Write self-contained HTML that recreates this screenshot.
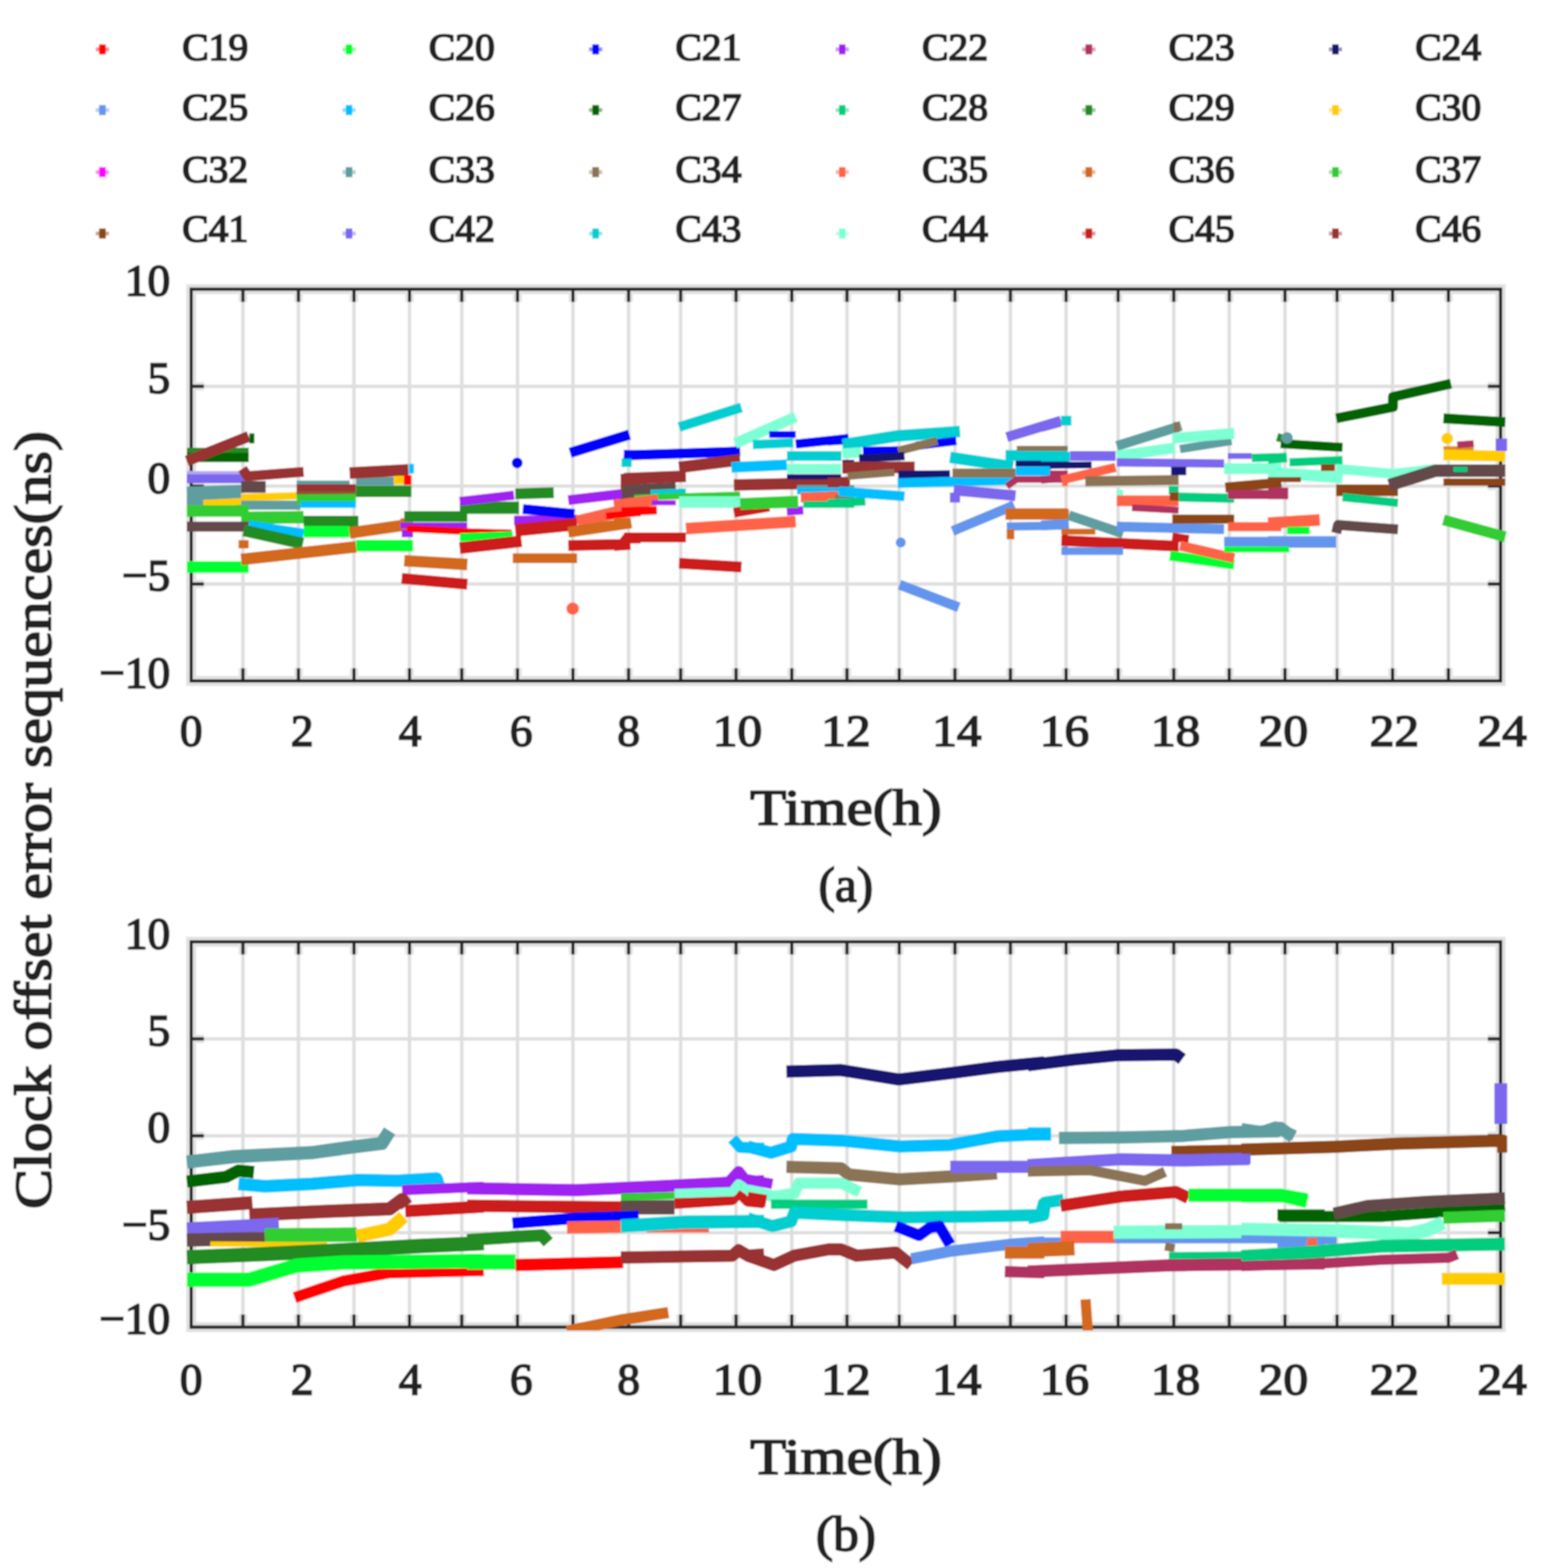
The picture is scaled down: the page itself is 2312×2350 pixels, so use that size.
<!DOCTYPE html>
<html><head><meta charset="utf-8"><title>Clock offset error sequences</title>
<style>
html,body{margin:0;padding:0;background:#fff;}
svg{display:block;}
text{font-family:'Liberation Serif', serif;fill:#222;stroke:#222;stroke-width:2.6px;}
.g{stroke:#dedede;stroke-width:5;}
.ax{fill:none;stroke:#262626;stroke-width:5;}
.halo{fill:none;stroke:#e2e2e2;stroke-width:15;}
.tkh{stroke:#e6e6e6;stroke-width:13;fill:none;}
.tk{stroke:#262626;stroke-width:5;fill:none;}
.xl{font-size:68px;text-anchor:middle;}
.yl{font-size:68px;text-anchor:end;}
.tt{font-size:76px;text-anchor:middle;}
.sub{font-size:74px;text-anchor:middle;}
.yt{font-size:79px;text-anchor:middle;}
.lg{font-size:57px;}
</style></head>
<body>
<svg width="2312" height="2350" viewBox="0 0 2312 2350">
<defs>
<clipPath id="clipa"><rect x="276.5" y="428.4" width="1981.9" height="597.1"/></clipPath>
<clipPath id="clipb"><rect x="276.5" y="1406.5" width="1981.9" height="587.5"/></clipPath>
<filter id="soft" x="0" y="0" width="100%" height="100%"><feGaussianBlur stdDeviation="1.3"/></filter>
</defs>
<g filter="url(#soft)">
<rect width="2312" height="2350" fill="#fff"/>
<rect x="148.5" y="66.5" width="10" height="15" fill="#ff0000"/>
<rect x="143.5" y="71" width="20" height="6" fill="#ff0000" fill-opacity="0.45"/>
<text x="273.0" y="90" class="lg" textLength="99" lengthAdjust="spacingAndGlyphs">C19</text>
<rect x="518.0" y="66.5" width="10" height="15" fill="#00ff33"/>
<rect x="513.0" y="71" width="20" height="6" fill="#00ff33" fill-opacity="0.45"/>
<text x="642.5" y="90" class="lg" textLength="99" lengthAdjust="spacingAndGlyphs">C20</text>
<rect x="887.5" y="66.5" width="10" height="15" fill="#0000ff"/>
<rect x="882.5" y="71" width="20" height="6" fill="#0000ff" fill-opacity="0.45"/>
<text x="1012.0" y="90" class="lg" textLength="99" lengthAdjust="spacingAndGlyphs">C21</text>
<rect x="1257.0" y="66.5" width="10" height="15" fill="#a020f0"/>
<rect x="1252.0" y="71" width="20" height="6" fill="#a020f0" fill-opacity="0.45"/>
<text x="1381.5" y="90" class="lg" textLength="99" lengthAdjust="spacingAndGlyphs">C22</text>
<rect x="1626.5" y="66.5" width="10" height="15" fill="#b03060"/>
<rect x="1621.5" y="71" width="20" height="6" fill="#b03060" fill-opacity="0.45"/>
<text x="1751.0" y="90" class="lg" textLength="99" lengthAdjust="spacingAndGlyphs">C23</text>
<rect x="1996.0" y="66.5" width="10" height="15" fill="#191970"/>
<rect x="1991.0" y="71" width="20" height="6" fill="#191970" fill-opacity="0.45"/>
<text x="2120.5" y="90" class="lg" textLength="99" lengthAdjust="spacingAndGlyphs">C24</text>
<rect x="148.5" y="157.5" width="10" height="15" fill="#6495ed"/>
<rect x="143.5" y="162" width="20" height="6" fill="#6495ed" fill-opacity="0.45"/>
<text x="273.0" y="179.5" class="lg" textLength="99" lengthAdjust="spacingAndGlyphs">C25</text>
<rect x="518.0" y="157.5" width="10" height="15" fill="#00bfff"/>
<rect x="513.0" y="162" width="20" height="6" fill="#00bfff" fill-opacity="0.45"/>
<text x="642.5" y="179.5" class="lg" textLength="99" lengthAdjust="spacingAndGlyphs">C26</text>
<rect x="887.5" y="157.5" width="10" height="15" fill="#006400"/>
<rect x="882.5" y="162" width="20" height="6" fill="#006400" fill-opacity="0.45"/>
<text x="1012.0" y="179.5" class="lg" textLength="99" lengthAdjust="spacingAndGlyphs">C27</text>
<rect x="1257.0" y="157.5" width="10" height="15" fill="#00cd80"/>
<rect x="1252.0" y="162" width="20" height="6" fill="#00cd80" fill-opacity="0.45"/>
<text x="1381.5" y="179.5" class="lg" textLength="99" lengthAdjust="spacingAndGlyphs">C28</text>
<rect x="1626.5" y="157.5" width="10" height="15" fill="#228b22"/>
<rect x="1621.5" y="162" width="20" height="6" fill="#228b22" fill-opacity="0.45"/>
<text x="1751.0" y="179.5" class="lg" textLength="99" lengthAdjust="spacingAndGlyphs">C29</text>
<rect x="1996.0" y="157.5" width="10" height="15" fill="#ffcc00"/>
<rect x="1991.0" y="162" width="20" height="6" fill="#ffcc00" fill-opacity="0.45"/>
<text x="2120.5" y="179.5" class="lg" textLength="99" lengthAdjust="spacingAndGlyphs">C30</text>
<rect x="148.5" y="250.5" width="10" height="15" fill="#ff00ff"/>
<rect x="143.5" y="255" width="20" height="6" fill="#ff00ff" fill-opacity="0.45"/>
<text x="273.0" y="273" class="lg" textLength="99" lengthAdjust="spacingAndGlyphs">C32</text>
<rect x="518.0" y="250.5" width="10" height="15" fill="#5f9ea0"/>
<rect x="513.0" y="255" width="20" height="6" fill="#5f9ea0" fill-opacity="0.45"/>
<text x="642.5" y="273" class="lg" textLength="99" lengthAdjust="spacingAndGlyphs">C33</text>
<rect x="887.5" y="250.5" width="10" height="15" fill="#8b7355"/>
<rect x="882.5" y="255" width="20" height="6" fill="#8b7355" fill-opacity="0.45"/>
<text x="1012.0" y="273" class="lg" textLength="99" lengthAdjust="spacingAndGlyphs">C34</text>
<rect x="1257.0" y="250.5" width="10" height="15" fill="#ff6347"/>
<rect x="1252.0" y="255" width="20" height="6" fill="#ff6347" fill-opacity="0.45"/>
<text x="1381.5" y="273" class="lg" textLength="99" lengthAdjust="spacingAndGlyphs">C35</text>
<rect x="1626.5" y="250.5" width="10" height="15" fill="#d2691e"/>
<rect x="1621.5" y="255" width="20" height="6" fill="#d2691e" fill-opacity="0.45"/>
<text x="1751.0" y="273" class="lg" textLength="99" lengthAdjust="spacingAndGlyphs">C36</text>
<rect x="1996.0" y="250.5" width="10" height="15" fill="#32cd32"/>
<rect x="1991.0" y="255" width="20" height="6" fill="#32cd32" fill-opacity="0.45"/>
<text x="2120.5" y="273" class="lg" textLength="99" lengthAdjust="spacingAndGlyphs">C37</text>
<rect x="148.5" y="342.5" width="10" height="15" fill="#8b4513"/>
<rect x="143.5" y="347" width="20" height="6" fill="#8b4513" fill-opacity="0.45"/>
<text x="273.0" y="362" class="lg" textLength="99" lengthAdjust="spacingAndGlyphs">C41</text>
<rect x="518.0" y="342.5" width="10" height="15" fill="#7b68ee"/>
<rect x="513.0" y="347" width="20" height="6" fill="#7b68ee" fill-opacity="0.45"/>
<text x="642.5" y="362" class="lg" textLength="99" lengthAdjust="spacingAndGlyphs">C42</text>
<rect x="887.5" y="342.5" width="10" height="15" fill="#00ced1"/>
<rect x="882.5" y="347" width="20" height="6" fill="#00ced1" fill-opacity="0.45"/>
<text x="1012.0" y="362" class="lg" textLength="99" lengthAdjust="spacingAndGlyphs">C43</text>
<rect x="1257.0" y="342.5" width="10" height="15" fill="#7fffd4"/>
<rect x="1252.0" y="347" width="20" height="6" fill="#7fffd4" fill-opacity="0.45"/>
<text x="1381.5" y="362" class="lg" textLength="99" lengthAdjust="spacingAndGlyphs">C44</text>
<rect x="1626.5" y="342.5" width="10" height="15" fill="#cc1a1a"/>
<rect x="1621.5" y="347" width="20" height="6" fill="#cc1a1a" fill-opacity="0.45"/>
<text x="1751.0" y="362" class="lg" textLength="99" lengthAdjust="spacingAndGlyphs">C45</text>
<rect x="1996.0" y="342.5" width="10" height="15" fill="#993333"/>
<rect x="1991.0" y="347" width="20" height="6" fill="#993333" fill-opacity="0.45"/>
<text x="2120.5" y="362" class="lg" textLength="99" lengthAdjust="spacingAndGlyphs">C46</text>
<line x1="364" y1="433.4" x2="364" y2="1020.5" class="g"/>
<line x1="447.2" y1="433.4" x2="447.2" y2="1020.5" class="g"/>
<line x1="530.4" y1="433.4" x2="530.4" y2="1020.5" class="g"/>
<line x1="613.6" y1="433.4" x2="613.6" y2="1020.5" class="g"/>
<line x1="691.9" y1="433.4" x2="691.9" y2="1020.5" class="g"/>
<line x1="775.4" y1="433.4" x2="775.4" y2="1020.5" class="g"/>
<line x1="858.5" y1="433.4" x2="858.5" y2="1020.5" class="g"/>
<line x1="941.9" y1="433.4" x2="941.9" y2="1020.5" class="g"/>
<line x1="1019.9" y1="433.4" x2="1019.9" y2="1020.5" class="g"/>
<line x1="1102.9" y1="433.4" x2="1102.9" y2="1020.5" class="g"/>
<line x1="1186.4" y1="433.4" x2="1186.4" y2="1020.5" class="g"/>
<line x1="1269.1" y1="433.4" x2="1269.1" y2="1020.5" class="g"/>
<line x1="1347.4" y1="433.4" x2="1347.4" y2="1020.5" class="g"/>
<line x1="1430.9" y1="433.4" x2="1430.9" y2="1020.5" class="g"/>
<line x1="1514" y1="433.4" x2="1514" y2="1020.5" class="g"/>
<line x1="1597.4" y1="433.4" x2="1597.4" y2="1020.5" class="g"/>
<line x1="1675.4" y1="433.4" x2="1675.4" y2="1020.5" class="g"/>
<line x1="1758.8" y1="433.4" x2="1758.8" y2="1020.5" class="g"/>
<line x1="1841.9" y1="433.4" x2="1841.9" y2="1020.5" class="g"/>
<line x1="1925.4" y1="433.4" x2="1925.4" y2="1020.5" class="g"/>
<line x1="2003.4" y1="433.4" x2="2003.4" y2="1020.5" class="g"/>
<line x1="2086.6" y1="433.4" x2="2086.6" y2="1020.5" class="g"/>
<line x1="2170.3" y1="433.4" x2="2170.3" y2="1020.5" class="g"/>
<line x1="286.5" y1="579.0" x2="2248.4" y2="579.0" class="g"/>
<line x1="286.5" y1="728.5" x2="2248.4" y2="728.5" class="g"/>
<line x1="286.5" y1="875.3" x2="2248.4" y2="875.3" class="g"/>
<rect x="286.5" y="433.4" width="1961.9" height="587.1" class="halo"/>
<path d="M364 433.4v19M364 1020.5v-19M447.2 433.4v19M447.2 1020.5v-19M530.4 433.4v19M530.4 1020.5v-19M613.6 433.4v19M613.6 1020.5v-19M691.9 433.4v19M691.9 1020.5v-19M775.4 433.4v19M775.4 1020.5v-19M858.5 433.4v19M858.5 1020.5v-19M941.9 433.4v19M941.9 1020.5v-19M1019.9 433.4v19M1019.9 1020.5v-19M1102.9 433.4v19M1102.9 1020.5v-19M1186.4 433.4v19M1186.4 1020.5v-19M1269.1 433.4v19M1269.1 1020.5v-19M1347.4 433.4v19M1347.4 1020.5v-19M1430.9 433.4v19M1430.9 1020.5v-19M1514 433.4v19M1514 1020.5v-19M1597.4 433.4v19M1597.4 1020.5v-19M1675.4 433.4v19M1675.4 1020.5v-19M1758.8 433.4v19M1758.8 1020.5v-19M1841.9 433.4v19M1841.9 1020.5v-19M1925.4 433.4v19M1925.4 1020.5v-19M2003.4 433.4v19M2003.4 1020.5v-19M2086.6 433.4v19M2086.6 1020.5v-19M2170.3 433.4v19M2170.3 1020.5v-19M286.5 579.0h19M2248.4 579.0h-19M286.5 728.5h19M2248.4 728.5h-19M286.5 875.3h19M2248.4 875.3h-19" class="tkh"/>
<rect x="286.5" y="433.4" width="1961.9" height="587.1" class="ax"/>
<path d="M364 433.4v19M364 1020.5v-19M447.2 433.4v19M447.2 1020.5v-19M530.4 433.4v19M530.4 1020.5v-19M613.6 433.4v19M613.6 1020.5v-19M691.9 433.4v19M691.9 1020.5v-19M775.4 433.4v19M775.4 1020.5v-19M858.5 433.4v19M858.5 1020.5v-19M941.9 433.4v19M941.9 1020.5v-19M1019.9 433.4v19M1019.9 1020.5v-19M1102.9 433.4v19M1102.9 1020.5v-19M1186.4 433.4v19M1186.4 1020.5v-19M1269.1 433.4v19M1269.1 1020.5v-19M1347.4 433.4v19M1347.4 1020.5v-19M1430.9 433.4v19M1430.9 1020.5v-19M1514 433.4v19M1514 1020.5v-19M1597.4 433.4v19M1597.4 1020.5v-19M1675.4 433.4v19M1675.4 1020.5v-19M1758.8 433.4v19M1758.8 1020.5v-19M1841.9 433.4v19M1841.9 1020.5v-19M1925.4 433.4v19M1925.4 1020.5v-19M2003.4 433.4v19M2003.4 1020.5v-19M2086.6 433.4v19M2086.6 1020.5v-19M2170.3 433.4v19M2170.3 1020.5v-19M286.5 579.0h19M2248.4 579.0h-19M286.5 728.5h19M2248.4 728.5h-19M286.5 875.3h19M2248.4 875.3h-19" class="tk"/>
<text x="286.4" y="1117.5" class="xl">0</text>
<text x="452.8" y="1117.5" class="xl">2</text>
<text x="614.5" y="1117.5" class="xl">4</text>
<text x="781" y="1117.5" class="xl">6</text>
<text x="942" y="1117.5" class="xl">8</text>
<text x="1105" y="1117.5" class="xl" textLength="74" lengthAdjust="spacingAndGlyphs">10</text>
<text x="1267.5" y="1117.5" class="xl" textLength="74" lengthAdjust="spacingAndGlyphs">12</text>
<text x="1433.7" y="1117.5" class="xl" textLength="74" lengthAdjust="spacingAndGlyphs">14</text>
<text x="1595" y="1117.5" class="xl" textLength="74" lengthAdjust="spacingAndGlyphs">16</text>
<text x="1761.5" y="1117.5" class="xl" textLength="74" lengthAdjust="spacingAndGlyphs">18</text>
<text x="1923" y="1117.5" class="xl" textLength="74" lengthAdjust="spacingAndGlyphs">20</text>
<text x="2089.3" y="1117.5" class="xl" textLength="74" lengthAdjust="spacingAndGlyphs">22</text>
<text x="2250.8" y="1117.5" class="xl" textLength="74" lengthAdjust="spacingAndGlyphs">24</text>
<text x="255" y="443.4" class="yl">10</text>
<text x="255" y="589.0" class="yl">5</text>
<text x="255" y="738.5" class="yl">0</text>
<text x="255" y="885.3" class="yl">−5</text>
<text x="255" y="1030.5" class="yl">−10</text>
<text x="1267.45" y="1236" class="tt" textLength="287" lengthAdjust="spacingAndGlyphs">Time(h)</text>
<text x="1267.45" y="1351" class="sub" textLength="82" lengthAdjust="spacingAndGlyphs">(a)</text>
<g clip-path="url(#clipa)" fill="none" stroke-linejoin="round" stroke-linecap="butt">
<polyline points="280.0,677.8 372.6,677.8" stroke="#228b22" stroke-width="13.728000000000002"/>
<polyline points="280.0,685.7 372.6,685.7" stroke="#006400" stroke-width="13.728000000000002"/>
<polyline points="280.0,691.0 372.6,654.1" stroke="#993333" stroke-width="16.236"/>
<polyline points="373.6,657.0 381.2,657.0" stroke="#006400" stroke-width="14.916000000000002"/>
<polyline points="280.0,709.0 361.3,709.0" stroke="#b9a6f5" stroke-width="6.204000000000001"/>
<polyline points="280.0,717.5 372.6,717.5" stroke="#7b68ee" stroke-width="13.728000000000002"/>
<polyline points="363.2,702.4 370.8,713.7 454.9,707.1" stroke="#993333" stroke-width="14.916000000000002"/>
<polyline points="280.0,739.2 361.3,736.4" stroke="#5f9ea0" stroke-width="19.932000000000002"/>
<polyline points="280.0,749.6 361.3,749.6" stroke="#5f9ea0" stroke-width="14.916000000000002"/>
<polyline points="361.3,729.8 398.2,729.8" stroke="#634a4a" stroke-width="17.424"/>
<polyline points="304.6,754.3 361.3,751.5" stroke="#ffcc00" stroke-width="10.032"/>
<polyline points="361.3,745.8 444.5,743.0" stroke="#ffcc00" stroke-width="11.22"/>
<polyline points="361.3,757.2 450.2,757.2" stroke="#5f9ea0" stroke-width="13.728000000000002"/>
<polyline points="280.0,765.7 372.6,765.7" stroke="#32cd32" stroke-width="17.424"/>
<polyline points="361.3,776.1 454.9,775.1" stroke="#32cd32" stroke-width="18.744"/>
<polyline points="280.0,789.3 372.6,789.3" stroke="#634a4a" stroke-width="14.916000000000002"/>
<polyline points="372.6,787.4 454.9,799.7" stroke="#00bfff" stroke-width="14.916000000000002"/>
<polyline points="365.1,795.0 453.9,814.8" stroke="#228b22" stroke-width="17.424"/>
<polyline points="454.9,781.8 537.1,781.8" stroke="#228b22" stroke-width="17.424"/>
<polyline points="280.0,849.8 372.6,849.8" stroke="#00ff33" stroke-width="17.424"/>
<polyline points="454.9,796.9 523.9,796.9" stroke="#00ff33" stroke-width="17.424"/>
<polyline points="533.4,817.7 616.5,817.7" stroke="#00ff33" stroke-width="17.424"/>
<polyline points="361.3,838.5 533.4,819.6" stroke="#d2691e" stroke-width="17.424"/>
<polyline points="523.9,798.8 616.5,785.5" stroke="#d2691e" stroke-width="17.424"/>
<polyline points="357.5,815.8 372.6,815.8" stroke="#d2691e" stroke-width="12.540000000000001"/>
<polyline points="444.5,724.1 523.9,724.1" stroke="#5f9ea0" stroke-width="7.524000000000001"/>
<polyline points="444.5,732.6 533.4,732.6" stroke="#993333" stroke-width="13.728000000000002"/>
<polyline points="444.5,740.2 533.4,740.2" stroke="#8b5a2b" stroke-width="7.524000000000001"/>
<polyline points="444.5,748.7 533.4,747.7" stroke="#32cd32" stroke-width="14.916000000000002"/>
<polyline points="450.2,756.2 533.4,756.2" stroke="#00bfff" stroke-width="10.032"/>
<polyline points="533.4,736.4 616.5,736.4" stroke="#228b22" stroke-width="17.424"/>
<polyline points="533.4,721.3 590.1,721.3" stroke="#5f9ea0" stroke-width="12.540000000000001"/>
<polyline points="523.9,709.0 611.8,704.2" stroke="#993333" stroke-width="17.424"/>
<polyline points="590.1,719.4 605.2,719.4" stroke="#ffcc00" stroke-width="12.540000000000001"/>
<polyline points="605.2,719.4 616.5,719.4" stroke="#ff0000" stroke-width="14.916000000000002"/>
<polyline points="612.8,702.4 620.3,702.4" stroke="#00bfff" stroke-width="14.916000000000002"/>
<polyline points="600.0,785.5 618.9,785.5" stroke="#d2691e" stroke-width="17.424"/>
<polyline points="600.0,817.7 618.9,817.7" stroke="#00ff33" stroke-width="17.424"/>
<polyline points="605.7,774.2 700.2,774.2" stroke="#228b22" stroke-width="16.236"/>
<polyline points="600.0,787.4 700.2,787.4" stroke="#a020f0" stroke-width="8.712"/>
<polyline points="601.9,799.7 618.9,799.7" stroke="#a020f0" stroke-width="11.22"/>
<polyline points="688.9,761.0 777.7,761.0" stroke="#228b22" stroke-width="18.744"/>
<polyline points="772.1,740.2 829.7,738.3" stroke="#228b22" stroke-width="16.236"/>
<polyline points="688.9,751.5 770.2,742.1" stroke="#a020f0" stroke-width="13.728000000000002"/>
<polyline points="851.5,749.6 932.8,740.2" stroke="#a020f0" stroke-width="14.916000000000002"/>
<polyline points="770.2,779.9 864.7,778.0" stroke="#a020f0" stroke-width="13.728000000000002"/>
<polyline points="783.4,762.9 860.9,770.4" stroke="#0000ff" stroke-width="14.916000000000002"/>
<polyline points="854.3,678.7 943.2,651.3" stroke="#0000ff" stroke-width="15.443999999999999"/>
<circle cx="774.9" cy="693.8" r="8.1" fill="#0000ff" stroke="none"/>
<polyline points="934.7,680.6 960.0,681.6" stroke="#0000ff" stroke-width="12.540000000000001"/>
<polyline points="932.8,692.9 946.0,692.9" stroke="#00ced1" stroke-width="13.728000000000002"/>
<polyline points="609.5,792.2 705.9,796.9 766.4,798.8" stroke="#ff0000" stroke-width="10.032"/>
<polyline points="688.9,805.4 768.3,802.6" stroke="#00ff33" stroke-width="12.540000000000001"/>
<polyline points="688.9,821.5 781.5,811.1" stroke="#cc1a1a" stroke-width="17.424"/>
<polyline points="772.1,795.0 864.7,785.5" stroke="#cc1a1a" stroke-width="18.744"/>
<polyline points="851.5,817.7 932.8,815.8 940.3,806.3 960.0,806.3" stroke="#cc1a1a" stroke-width="16.236"/>
<polyline points="864.7,781.8 960.0,759.1" stroke="#ff6347" stroke-width="18.744"/>
<polyline points="908.2,773.3 960.0,768.5" stroke="#ff0000" stroke-width="10.032"/>
<polyline points="605.7,840.4 700.2,846.0" stroke="#d2691e" stroke-width="17.424"/>
<polyline points="768.3,836.6 864.7,836.6" stroke="#d2691e" stroke-width="14.916000000000002"/>
<polyline points="851.5,797.8 946.0,783.7" stroke="#d2691e" stroke-width="16.236"/>
<polyline points="601.9,866.8 700.2,875.7" stroke="#cc1a1a" stroke-width="16.236"/>
<circle cx="858.1" cy="912.2" r="9.4" fill="#ff6347" stroke="none"/>
<polyline points="929.9,721.3 960.0,721.3" stroke="#993333" stroke-width="22.44"/>
<polyline points="929.9,742.1 960.0,742.1" stroke="#634a4a" stroke-width="19.932000000000002"/>
<polyline points="935.1,736.4 1012.6,732.6" stroke="#634a4a" stroke-width="19.932000000000002"/>
<polyline points="935.1,717.5 1027.8,713.7" stroke="#993333" stroke-width="17.424"/>
<polyline points="935.1,682.5 1109.1,676.8" stroke="#0000ff" stroke-width="14.916000000000002"/>
<polyline points="931.3,693.8 946.5,693.8" stroke="#00ced1" stroke-width="12.540000000000001"/>
<polyline points="1017.4,640.0 1111.0,610.7" stroke="#00ced1" stroke-width="14.916000000000002"/>
<polyline points="1017.4,700.5 1109.1,689.1" stroke="#993333" stroke-width="17.424"/>
<polyline points="974.8,740.2 1027.8,738.3" stroke="#00ced1" stroke-width="12.540000000000001"/>
<polyline points="950.3,745.8 1109.1,741.1" stroke="#32cd32" stroke-width="8.712"/>
<polyline points="1017.4,752.5 1109.1,752.5" stroke="#7fffd4" stroke-width="17.424"/>
<polyline points="920.0,757.2 986.2,748.7" stroke="#ff6347" stroke-width="16.236"/>
<polyline points="931.3,766.6 984.3,764.7" stroke="#ff0000" stroke-width="12.540000000000001"/>
<polyline points="920.0,740.2 931.3,740.2" stroke="#a020f0" stroke-width="12.540000000000001"/>
<polyline points="976.7,753.4 1012.6,753.4" stroke="#a020f0" stroke-width="7.524000000000001"/>
<polyline points="920.0,783.7 944.6,783.7" stroke="#d2691e" stroke-width="14.916000000000002"/>
<polyline points="920.0,817.7 944.6,815.8" stroke="#cc1a1a" stroke-width="16.236"/>
<polyline points="935.1,805.4 1027.8,805.4" stroke="#cc1a1a" stroke-width="14.916000000000002"/>
<polyline points="1027.8,792.2 1192.3,781.8" stroke="#ff6347" stroke-width="17.424"/>
<polyline points="1099.6,768.5 1152.6,759.1" stroke="#cc1a1a" stroke-width="14.916000000000002"/>
<polyline points="1017.4,844.2 1111.0,849.8" stroke="#cc1a1a" stroke-width="16.236"/>
<polyline points="1095.8,700.5 1179.0,696.7" stroke="#00bfff" stroke-width="16.236"/>
<polyline points="1099.6,726.9 1273.6,723.1" stroke="#993333" stroke-width="17.424"/>
<polyline points="1109.1,755.3 1196.0,751.5" stroke="#32cd32" stroke-width="17.424"/>
<polyline points="1101.5,664.5 1192.3,624.8" stroke="#7fffd4" stroke-width="16.236"/>
<polyline points="1128.0,666.4 1188.5,663.6" stroke="#00ced1" stroke-width="13.728000000000002"/>
<polyline points="1152.6,651.3 1192.3,651.3" stroke="#0000ff" stroke-width="10.032"/>
<polyline points="1192.3,665.5 1271.7,657.0" stroke="#0000ff" stroke-width="13.728000000000002"/>
<polyline points="1179.0,683.4 1260.3,683.4" stroke="#00ced1" stroke-width="14.916000000000002"/>
<polyline points="1179.0,702.4 1260.3,702.4" stroke="#7fffd4" stroke-width="14.916000000000002"/>
<polyline points="1179.0,714.6 1260.3,714.6" stroke="#191970" stroke-width="7.524000000000001"/>
<polyline points="1194.2,730.7 1280.0,730.7" stroke="#5f9ea0" stroke-width="7.524000000000001"/>
<polyline points="1194.2,736.0 1280.0,736.0" stroke="#00bfff" stroke-width="10.032"/>
<polyline points="1199.8,745.8 1256.5,743.9" stroke="#ff6347" stroke-width="14.916000000000002"/>
<polyline points="1179.0,766.6 1203.6,764.7" stroke="#a020f0" stroke-width="12.540000000000001"/>
<polyline points="1152.6,756.2 1196.0,756.2" stroke="#32cd32" stroke-width="10.032"/>
<polyline points="1203.6,756.2 1280.0,756.2" stroke="#00cd80" stroke-width="10.032"/>
<polyline points="1252.8,749.6 1280.0,745.8" stroke="#8b7355" stroke-width="14.916000000000002"/>
<polyline points="1262.2,679.7 1280.0,677.8" stroke="#7fffd4" stroke-width="14.916000000000002"/>
<polyline points="1262.2,666.4 1280.0,664.5" stroke="#00ced1" stroke-width="14.916000000000002"/>
<polyline points="1262.2,702.4 1280.0,702.4" stroke="#993333" stroke-width="14.916000000000002"/>
<polyline points="1262.2,692.9 1280.0,692.9" stroke="#191970" stroke-width="7.524000000000001"/>
<polyline points="1240.0,660.8 1270.3,658.9" stroke="#0000ff" stroke-width="13.728000000000002"/>
<polyline points="1240.0,683.4 1260.8,683.4" stroke="#00ced1" stroke-width="14.916000000000002"/>
<polyline points="1240.0,702.4 1258.9,702.4" stroke="#7fffd4" stroke-width="14.916000000000002"/>
<polyline points="1240.0,723.1 1272.1,723.1" stroke="#993333" stroke-width="14.916000000000002"/>
<polyline points="1240.0,743.9 1251.3,743.9" stroke="#ff6347" stroke-width="14.916000000000002"/>
<polyline points="1251.3,747.7 1274.0,747.7" stroke="#8b7355" stroke-width="12.540000000000001"/>
<polyline points="1240.0,754.3 1296.7,751.5" stroke="#00cd80" stroke-width="12.540000000000001"/>
<polyline points="1262.7,666.4 1345.9,653.2 1438.5,646.6" stroke="#00ced1" stroke-width="17.424"/>
<polyline points="1292.9,675.9 1345.9,674.9" stroke="#0000ff" stroke-width="12.540000000000001"/>
<polyline points="1372.4,668.3 1432.9,660.8" stroke="#0000ff" stroke-width="12.540000000000001"/>
<polyline points="1345.9,675.9 1404.5,660.8" stroke="#8b7355" stroke-width="12.540000000000001"/>
<polyline points="1262.7,679.7 1291.0,677.8" stroke="#7fffd4" stroke-width="14.916000000000002"/>
<polyline points="1287.3,687.2 1355.3,683.4" stroke="#191970" stroke-width="12.540000000000001"/>
<polyline points="1262.7,700.5 1370.5,700.5" stroke="#993333" stroke-width="17.424"/>
<polyline points="1270.3,713.7 1340.2,708.0" stroke="#8b7355" stroke-width="11.22"/>
<polyline points="1345.9,711.8 1423.4,710.9" stroke="#191970" stroke-width="12.540000000000001"/>
<polyline points="1257.0,736.4 1355.3,743.9" stroke="#00bfff" stroke-width="14.916000000000002"/>
<polyline points="1344.9,724.1 1517.9,719.4" stroke="#00bfff" stroke-width="14.916000000000002"/>
<polyline points="1423.4,685.3 1517.9,699.5" stroke="#00ced1" stroke-width="17.424"/>
<polyline points="1506.6,682.5 1600.0,683.4" stroke="#00ced1" stroke-width="16.236"/>
<polyline points="1427.2,709.0 1521.7,709.0" stroke="#8b7355" stroke-width="13.728000000000002"/>
<polyline points="1523.6,672.1 1600.0,672.1" stroke="#8b7355" stroke-width="7.524000000000001"/>
<polyline points="1508.5,655.1 1589.8,630.5" stroke="#7b68ee" stroke-width="14.916000000000002"/>
<polyline points="1589.8,630.5 1600.0,630.5" stroke="#00ced1" stroke-width="14.916000000000002"/>
<polyline points="1429.1,734.5 1521.7,743.0" stroke="#7b68ee" stroke-width="16.236"/>
<polyline points="1423.4,745.8 1438.5,745.8" stroke="#7b68ee" stroke-width="14.916000000000002"/>
<polyline points="1521.7,694.8 1600.0,694.8" stroke="#191970" stroke-width="8.712"/>
<polyline points="1521.7,706.1 1574.7,706.1" stroke="#00bfff" stroke-width="13.728000000000002"/>
<polyline points="1508.5,728.8 1523.6,718.4 1600.0,718.4" stroke="#b03060" stroke-width="10.032"/>
<polyline points="1572.8,709.9 1600.0,709.9" stroke="#b03060" stroke-width="10.032"/>
<polyline points="1427.2,795.9 1519.8,757.2" stroke="#6495ed" stroke-width="14.916000000000002"/>
<polyline points="1508.5,789.3 1600.0,787.4" stroke="#6495ed" stroke-width="12.540000000000001"/>
<polyline points="1506.6,770.4 1600.0,770.4" stroke="#d2691e" stroke-width="17.424"/>
<polyline points="1508.5,800.7 1519.8,800.7" stroke="#d2691e" stroke-width="14.916000000000002"/>
<polyline points="1591.7,802.6 1600.0,802.6" stroke="#cc1a1a" stroke-width="22.44"/>
<polyline points="1591.7,825.2 1600.0,825.2" stroke="#6495ed" stroke-width="12.540000000000001"/>
<circle cx="1349.7" cy="813.0" r="7.5" fill="#6495ed" stroke="none"/>
<polyline points="1347.8,876.3 1436.6,910.3" stroke="#6495ed" stroke-width="14.916000000000002"/>
<polyline points="1591.7,721.3 1600.0,721.3" stroke="#ff6347" stroke-width="14.916000000000002"/>
<polyline points="1560.0,640.0 1588.4,632.4" stroke="#7b68ee" stroke-width="14.916000000000002"/>
<polyline points="1590.3,630.5 1605.4,630.5" stroke="#00ced1" stroke-width="14.916000000000002"/>
<polyline points="1560.0,684.4 1603.5,684.4" stroke="#00ced1" stroke-width="14.916000000000002"/>
<polyline points="1603.5,683.4 1671.6,683.4" stroke="#7b68ee" stroke-width="14.916000000000002"/>
<polyline points="1573.2,697.6 1635.6,696.7" stroke="#191970" stroke-width="10.032"/>
<polyline points="1560.0,706.1 1573.2,706.1" stroke="#00bfff" stroke-width="13.728000000000002"/>
<polyline points="1560.0,719.4 1590.3,716.5" stroke="#b03060" stroke-width="11.22"/>
<polyline points="1590.3,719.4 1671.6,700.5" stroke="#ff6347" stroke-width="13.728000000000002"/>
<polyline points="1626.2,721.3 1766.1,719.4" stroke="#8b7355" stroke-width="14.916000000000002"/>
<polyline points="1673.4,668.3 1769.9,638.1" stroke="#5f9ea0" stroke-width="14.916000000000002"/>
<polyline points="1758.5,640.0 1768.0,640.0" stroke="#8b7355" stroke-width="14.916000000000002"/>
<polyline points="1673.4,683.4 1760.4,671.2" stroke="#7fffd4" stroke-width="16.236"/>
<polyline points="1768.0,673.0 1845.5,660.8" stroke="#5f9ea0" stroke-width="12.540000000000001"/>
<polyline points="1756.6,657.0 1849.3,649.4" stroke="#7fffd4" stroke-width="16.236"/>
<polyline points="1673.4,692.9 1834.2,694.8" stroke="#7b68ee" stroke-width="12.540000000000001"/>
<polyline points="1839.8,683.4 1875.7,683.4" stroke="#7b68ee" stroke-width="8.712"/>
<polyline points="1754.7,706.1 1777.4,706.1" stroke="#191970" stroke-width="12.540000000000001"/>
<polyline points="1834.2,702.4 1920.0,702.4" stroke="#7fffd4" stroke-width="16.236"/>
<polyline points="1875.7,686.3 1920.0,685.3" stroke="#00cd80" stroke-width="12.540000000000001"/>
<polyline points="1673.4,740.2 1682.9,740.2" stroke="#7fffd4" stroke-width="12.540000000000001"/>
<polyline points="1673.4,750.6 1766.1,750.6" stroke="#ff6347" stroke-width="16.236"/>
<polyline points="1696.1,761.0 1766.1,764.7" stroke="#b03060" stroke-width="10.032"/>
<polyline points="1751.0,734.5 1766.1,734.5" stroke="#00cd80" stroke-width="12.540000000000001"/>
<polyline points="1766.1,744.9 1849.3,746.8" stroke="#00cd80" stroke-width="13.728000000000002"/>
<polyline points="1752.9,743.9 1766.1,743.9" stroke="#8b4513" stroke-width="12.540000000000001"/>
<polyline points="1836.0,730.7 1920.0,723.1" stroke="#8b4513" stroke-width="14.916000000000002"/>
<polyline points="1839.8,741.1 1920.0,741.1" stroke="#b03060" stroke-width="13.728000000000002"/>
<polyline points="1560.0,770.4 1601.6,770.4" stroke="#d2691e" stroke-width="14.916000000000002"/>
<polyline points="1560.0,787.4 1601.6,785.5" stroke="#6495ed" stroke-width="14.916000000000002"/>
<polyline points="1601.6,772.3 1682.9,799.7" stroke="#5f9ea0" stroke-width="14.916000000000002"/>
<polyline points="1673.4,789.3 1834.2,793.1" stroke="#6495ed" stroke-width="14.916000000000002"/>
<polyline points="1590.3,796.9 1641.3,796.9" stroke="#d2691e" stroke-width="8.712"/>
<polyline points="1590.3,810.1 1766.1,818.6" stroke="#cc1a1a" stroke-width="16.236"/>
<polyline points="1756.6,804.4 1781.2,808.2" stroke="#cc1a1a" stroke-width="12.540000000000001"/>
<polyline points="1590.3,826.2 1682.9,826.2" stroke="#6495ed" stroke-width="11.22"/>
<polyline points="1756.6,778.0 1849.3,778.0" stroke="#8b4513" stroke-width="13.728000000000002"/>
<polyline points="1752.9,832.8 1849.3,846.0" stroke="#00ff33" stroke-width="14.916000000000002"/>
<polyline points="1768.0,817.7 1849.3,836.6" stroke="#ff6347" stroke-width="14.916000000000002"/>
<polyline points="1839.8,789.3 1920.0,789.3" stroke="#ff6347" stroke-width="13.728000000000002"/>
<polyline points="1834.2,812.0 1920.0,812.0" stroke="#6495ed" stroke-width="14.916000000000002"/>
<polyline points="1834.2,823.4 1920.0,823.4" stroke="#00ff33" stroke-width="8.712"/>
<polyline points="1913.6,655.1 1920.0,657.0" stroke="#228b22" stroke-width="12.540000000000001"/>
<polyline points="1900.0,687.5 1928.4,685.6" stroke="#00cd80" stroke-width="14.916000000000002"/>
<polyline points="1932.1,693.1 2011.6,689.4" stroke="#00cd80" stroke-width="12.540000000000001"/>
<polyline points="1900.0,708.3 2011.6,715.8" stroke="#7fffd4" stroke-width="17.424"/>
<polyline points="1900.0,718.7 1949.2,718.7" stroke="#8b4513" stroke-width="7.524000000000001"/>
<polyline points="1979.4,700.7 2000.2,700.7" stroke="#8b4513" stroke-width="10.032"/>
<polyline points="1918.9,664.8 2011.6,670.5" stroke="#006400" stroke-width="13.728000000000002"/>
<circle cx="1928.4" cy="656.3" r="8.7" fill="#5f9ea0" stroke="none"/>
<polyline points="1900.0,739.5 1930.3,739.5" stroke="#b03060" stroke-width="17.424"/>
<polyline points="2002.1,702.6 2089.1,710.2 2151.5,702.6" stroke="#7fffd4" stroke-width="14.916000000000002"/>
<polyline points="2002.1,734.7 2094.7,734.7" stroke="#8b4513" stroke-width="17.424"/>
<polyline points="2011.6,745.1 2094.7,753.7" stroke="#00cd80" stroke-width="12.540000000000001"/>
<polyline points="2081.5,727.2 2151.5,705.4 2255.5,705.4" stroke="#634a4a" stroke-width="18.744"/>
<polyline points="2162.8,722.5 2255.5,722.5" stroke="#8b4513" stroke-width="11.22"/>
<polyline points="2177.9,703.5 2198.7,703.5" stroke="#00cd80" stroke-width="7.524000000000001"/>
<polyline points="2002.1,627.0 2087.2,610.0 2087.2,594.8 2174.2,575.0" stroke="#006400" stroke-width="14.916000000000002"/>
<polyline points="2162.8,627.0 2255.5,632.6" stroke="#006400" stroke-width="14.916000000000002"/>
<polyline points="2162.8,672.4 2208.2,672.4" stroke="#e08a20" stroke-width="7.524000000000001"/>
<polyline points="2162.8,681.8 2255.5,683.7" stroke="#ffcc00" stroke-width="16.236"/>
<circle cx="2168.5" cy="657.2" r="8.7" fill="#ffcc00" stroke="none"/>
<polyline points="2183.6,666.7 2208.2,664.8" stroke="#b03060" stroke-width="10.032"/>
<polyline points="2249.8,657.2 2249.8,676.1" stroke="#7b68ee" stroke-width="17.424"/>
<polyline points="1900.0,783.9 1977.5,779.2" stroke="#ff6347" stroke-width="17.424"/>
<polyline points="1928.4,795.2 1962.4,795.2" stroke="#00ff33" stroke-width="11.22"/>
<polyline points="1900.0,812.3 2002.1,812.3" stroke="#6495ed" stroke-width="17.424"/>
<polyline points="1900.0,823.6 1932.1,823.6" stroke="#00ff33" stroke-width="8.712"/>
<polyline points="2002.1,799.0 2004.9,786.7 2094.7,793.4" stroke="#634a4a" stroke-width="14.916000000000002"/>
<polyline points="2162.8,779.2 2255.5,804.7" stroke="#32cd32" stroke-width="16.236"/>
</g>
<line x1="364" y1="1411.5" x2="364" y2="1989.0" class="g"/>
<line x1="447.2" y1="1411.5" x2="447.2" y2="1989.0" class="g"/>
<line x1="530.4" y1="1411.5" x2="530.4" y2="1989.0" class="g"/>
<line x1="613.6" y1="1411.5" x2="613.6" y2="1989.0" class="g"/>
<line x1="691.9" y1="1411.5" x2="691.9" y2="1989.0" class="g"/>
<line x1="775.4" y1="1411.5" x2="775.4" y2="1989.0" class="g"/>
<line x1="858.5" y1="1411.5" x2="858.5" y2="1989.0" class="g"/>
<line x1="941.9" y1="1411.5" x2="941.9" y2="1989.0" class="g"/>
<line x1="1019.9" y1="1411.5" x2="1019.9" y2="1989.0" class="g"/>
<line x1="1102.9" y1="1411.5" x2="1102.9" y2="1989.0" class="g"/>
<line x1="1186.4" y1="1411.5" x2="1186.4" y2="1989.0" class="g"/>
<line x1="1269.1" y1="1411.5" x2="1269.1" y2="1989.0" class="g"/>
<line x1="1347.4" y1="1411.5" x2="1347.4" y2="1989.0" class="g"/>
<line x1="1430.9" y1="1411.5" x2="1430.9" y2="1989.0" class="g"/>
<line x1="1514" y1="1411.5" x2="1514" y2="1989.0" class="g"/>
<line x1="1597.4" y1="1411.5" x2="1597.4" y2="1989.0" class="g"/>
<line x1="1675.4" y1="1411.5" x2="1675.4" y2="1989.0" class="g"/>
<line x1="1758.8" y1="1411.5" x2="1758.8" y2="1989.0" class="g"/>
<line x1="1841.9" y1="1411.5" x2="1841.9" y2="1989.0" class="g"/>
<line x1="1925.4" y1="1411.5" x2="1925.4" y2="1989.0" class="g"/>
<line x1="2003.4" y1="1411.5" x2="2003.4" y2="1989.0" class="g"/>
<line x1="2086.6" y1="1411.5" x2="2086.6" y2="1989.0" class="g"/>
<line x1="2170.3" y1="1411.5" x2="2170.3" y2="1989.0" class="g"/>
<line x1="286.5" y1="1557.0" x2="2248.4" y2="1557.0" class="g"/>
<line x1="286.5" y1="1702.3" x2="2248.4" y2="1702.3" class="g"/>
<line x1="286.5" y1="1847.6" x2="2248.4" y2="1847.6" class="g"/>
<rect x="286.5" y="1411.5" width="1961.9" height="577.5" class="halo"/>
<path d="M364 1411.5v19M364 1989.0v-19M447.2 1411.5v19M447.2 1989.0v-19M530.4 1411.5v19M530.4 1989.0v-19M613.6 1411.5v19M613.6 1989.0v-19M691.9 1411.5v19M691.9 1989.0v-19M775.4 1411.5v19M775.4 1989.0v-19M858.5 1411.5v19M858.5 1989.0v-19M941.9 1411.5v19M941.9 1989.0v-19M1019.9 1411.5v19M1019.9 1989.0v-19M1102.9 1411.5v19M1102.9 1989.0v-19M1186.4 1411.5v19M1186.4 1989.0v-19M1269.1 1411.5v19M1269.1 1989.0v-19M1347.4 1411.5v19M1347.4 1989.0v-19M1430.9 1411.5v19M1430.9 1989.0v-19M1514 1411.5v19M1514 1989.0v-19M1597.4 1411.5v19M1597.4 1989.0v-19M1675.4 1411.5v19M1675.4 1989.0v-19M1758.8 1411.5v19M1758.8 1989.0v-19M1841.9 1411.5v19M1841.9 1989.0v-19M1925.4 1411.5v19M1925.4 1989.0v-19M2003.4 1411.5v19M2003.4 1989.0v-19M2086.6 1411.5v19M2086.6 1989.0v-19M2170.3 1411.5v19M2170.3 1989.0v-19M286.5 1557.0h19M2248.4 1557.0h-19M286.5 1702.3h19M2248.4 1702.3h-19M286.5 1847.6h19M2248.4 1847.6h-19" class="tkh"/>
<rect x="286.5" y="1411.5" width="1961.9" height="577.5" class="ax"/>
<path d="M364 1411.5v19M364 1989.0v-19M447.2 1411.5v19M447.2 1989.0v-19M530.4 1411.5v19M530.4 1989.0v-19M613.6 1411.5v19M613.6 1989.0v-19M691.9 1411.5v19M691.9 1989.0v-19M775.4 1411.5v19M775.4 1989.0v-19M858.5 1411.5v19M858.5 1989.0v-19M941.9 1411.5v19M941.9 1989.0v-19M1019.9 1411.5v19M1019.9 1989.0v-19M1102.9 1411.5v19M1102.9 1989.0v-19M1186.4 1411.5v19M1186.4 1989.0v-19M1269.1 1411.5v19M1269.1 1989.0v-19M1347.4 1411.5v19M1347.4 1989.0v-19M1430.9 1411.5v19M1430.9 1989.0v-19M1514 1411.5v19M1514 1989.0v-19M1597.4 1411.5v19M1597.4 1989.0v-19M1675.4 1411.5v19M1675.4 1989.0v-19M1758.8 1411.5v19M1758.8 1989.0v-19M1841.9 1411.5v19M1841.9 1989.0v-19M1925.4 1411.5v19M1925.4 1989.0v-19M2003.4 1411.5v19M2003.4 1989.0v-19M2086.6 1411.5v19M2086.6 1989.0v-19M2170.3 1411.5v19M2170.3 1989.0v-19M286.5 1557.0h19M2248.4 1557.0h-19M286.5 1702.3h19M2248.4 1702.3h-19M286.5 1847.6h19M2248.4 1847.6h-19" class="tk"/>
<text x="286.4" y="2090" class="xl">0</text>
<text x="452.8" y="2090" class="xl">2</text>
<text x="614.5" y="2090" class="xl">4</text>
<text x="781" y="2090" class="xl">6</text>
<text x="942" y="2090" class="xl">8</text>
<text x="1105" y="2090" class="xl" textLength="74" lengthAdjust="spacingAndGlyphs">10</text>
<text x="1267.5" y="2090" class="xl" textLength="74" lengthAdjust="spacingAndGlyphs">12</text>
<text x="1433.7" y="2090" class="xl" textLength="74" lengthAdjust="spacingAndGlyphs">14</text>
<text x="1595" y="2090" class="xl" textLength="74" lengthAdjust="spacingAndGlyphs">16</text>
<text x="1761.5" y="2090" class="xl" textLength="74" lengthAdjust="spacingAndGlyphs">18</text>
<text x="1923" y="2090" class="xl" textLength="74" lengthAdjust="spacingAndGlyphs">20</text>
<text x="2089.3" y="2090" class="xl" textLength="74" lengthAdjust="spacingAndGlyphs">22</text>
<text x="2250.8" y="2090" class="xl" textLength="74" lengthAdjust="spacingAndGlyphs">24</text>
<text x="255" y="1421.5" class="yl">10</text>
<text x="255" y="1567.0" class="yl">5</text>
<text x="255" y="1712.3" class="yl">0</text>
<text x="255" y="1857.6" class="yl">−5</text>
<text x="255" y="1999.0" class="yl">−10</text>
<text x="1267.45" y="2209" class="tt" textLength="287" lengthAdjust="spacingAndGlyphs">Time(h)</text>
<text x="1267.45" y="2324" class="sub" textLength="90" lengthAdjust="spacingAndGlyphs">(b)</text>
<g clip-path="url(#clipb)" fill="none" stroke-linejoin="round" stroke-linecap="butt">
<polyline points="280.0,1741.6 350.1,1733.5 467.0,1727.6 525.4,1719.4 572.1,1713.6 583.8,1694.9" stroke="#5f9ea0" stroke-width="20.064"/>
<polyline points="280.0,1770.9 338.4,1763.9 357.1,1754.5 380.5,1756.8" stroke="#006400" stroke-width="18.48"/>
<polyline points="357.1,1774.4 396.9,1777.9 467.0,1774.4 537.1,1768.5 595.5,1769.7 653.9,1766.2 658.6,1781.4" stroke="#00bfff" stroke-width="19.14"/>
<polyline points="602.5,1783.7 725.0,1778.6" stroke="#a020f0" stroke-width="15.443999999999999"/>
<polyline points="280.0,1809.4 378.2,1802.4" stroke="#993333" stroke-width="20.064"/>
<polyline points="373.5,1821.1 467.0,1816.4 583.8,1811.8 602.5,1797.7 609.5,1807.1" stroke="#993333" stroke-width="20.064"/>
<polyline points="607.2,1815.3 725.0,1808.3" stroke="#cc1a1a" stroke-width="18.48"/>
<polyline points="280.0,1842.1 417.9,1835.1" stroke="#7b68ee" stroke-width="20.064"/>
<polyline points="280.0,1858.5 396.9,1856.2" stroke="#634a4a" stroke-width="20.064"/>
<polyline points="396.9,1851.5 534.8,1850.3" stroke="#32cd32" stroke-width="21.648"/>
<polyline points="315.1,1864.4 490.3,1865.5" stroke="#ffcc00" stroke-width="7.656"/>
<polyline points="534.8,1852.7 583.8,1842.1 604.9,1823.5" stroke="#ffcc00" stroke-width="20.064"/>
<polyline points="280.0,1884.2 396.9,1879.5 513.7,1873.7 630.6,1867.4 725.0,1863.2" stroke="#228b22" stroke-width="21.648"/>
<polyline points="441.3,1944.8 513.7,1920.2 583.8,1907.4 725.0,1903.9" stroke="#ff0000" stroke-width="17.028000000000002"/>
<polyline points="280.0,1917.9 373.5,1917.9 443.6,1896.9 513.7,1892.2 725.0,1889.8" stroke="#00ff33" stroke-width="21.648"/>
<polyline points="700.0,1780.9 863.6,1783.7 1003.8,1777.2 1092.6,1772.5 1106.7,1756.8 1118.4,1772.0 1145.0,1770.2" stroke="#a020f0" stroke-width="18.48"/>
<polyline points="700.0,1807.1 931.4,1809.4" stroke="#cc1a1a" stroke-width="18.48"/>
<polyline points="1010.8,1803.6 1097.3,1797.7 1106.7,1786.1 1120.7,1800.1 1145.0,1802.4" stroke="#cc1a1a" stroke-width="17.028000000000002"/>
<polyline points="930.2,1809.4 1010.8,1809.4" stroke="#634a4a" stroke-width="21.648"/>
<polyline points="930.2,1794.2 1010.8,1791.9" stroke="#32cd32" stroke-width="10.824"/>
<polyline points="1010.8,1788.9 1097.3,1786.1 1106.7,1774.4 1120.7,1783.7 1145.0,1781.4" stroke="#7fffd4" stroke-width="13.860000000000001"/>
<polyline points="767.8,1833.3 863.6,1825.8 957.1,1823.0" stroke="#0000ff" stroke-width="17.028000000000002"/>
<polyline points="849.6,1839.8 930.2,1838.6" stroke="#ff6347" stroke-width="18.48"/>
<polyline points="968.8,1843.3 1062.3,1843.3" stroke="#ff6347" stroke-width="7.656"/>
<polyline points="930.2,1837.5 1027.2,1831.6 1145.0,1830.5" stroke="#00ced1" stroke-width="20.064"/>
<polyline points="1097.3,1706.6 1109.0,1719.4 1145.0,1721.1" stroke="#00bfff" stroke-width="17.028000000000002"/>
<polyline points="700.0,1858.5 770.1,1853.8 812.2,1851.5 821.5,1862.0" stroke="#228b22" stroke-width="18.48"/>
<polyline points="700.0,1891.2 772.5,1891.2" stroke="#00ff33" stroke-width="23.1"/>
<polyline points="772.5,1895.9 933.7,1891.7" stroke="#ff0000" stroke-width="18.48"/>
<polyline points="930.2,1884.7 1097.3,1881.9 1106.7,1873.7 1120.7,1881.9 1145.0,1880.0" stroke="#993333" stroke-width="18.48"/>
<polyline points="849.6,1995.0 933.7,1977.7 1001.5,1967.2" stroke="#d2691e" stroke-width="17.028000000000002"/>
<polyline points="1178.4,1606.1 1260.2,1603.8 1346.7,1617.8 1423.8,1608.4 1493.9,1599.1 1565.0,1592.1" stroke="#191970" stroke-width="18.48"/>
<polyline points="1120.0,1718.3 1155.1,1727.6 1185.4,1718.3 1187.8,1707.1 1260.2,1709.4 1349.0,1718.3 1423.8,1715.9 1493.9,1703.1 1565.0,1699.6" stroke="#00bfff" stroke-width="18.48"/>
<polyline points="1178.4,1748.7 1260.2,1751.0 1271.9,1760.3 1346.7,1767.4 1423.8,1763.2 1493.9,1758.5" stroke="#8b7355" stroke-width="18.48"/>
<polyline points="1423.8,1748.7 1565.0,1748.7" stroke="#7b68ee" stroke-width="18.48"/>
<polyline points="1120.0,1767.4 1157.4,1774.4" stroke="#a020f0" stroke-width="15.443999999999999"/>
<polyline points="1120.0,1783.7 1159.7,1793.1 1190.1,1788.4 1197.1,1773.2 1260.2,1773.2 1288.3,1786.5" stroke="#7fffd4" stroke-width="17.028000000000002"/>
<polyline points="1155.1,1804.8 1300.0,1804.8" stroke="#00cd80" stroke-width="13.860000000000001"/>
<polyline points="1120.0,1795.4 1148.0,1800.1" stroke="#cc1a1a" stroke-width="18.48"/>
<polyline points="1120.0,1825.8 1157.4,1837.5 1185.4,1830.5 1190.1,1817.6 1260.2,1821.1 1353.7,1824.6 1470.6,1823.0 1559.4,1821.1 1565.0,1800.1" stroke="#00ced1" stroke-width="18.48"/>
<polyline points="1342.0,1837.5 1377.1,1851.5 1393.5,1839.8 1407.5,1837.9 1423.8,1865.5" stroke="#0000ff" stroke-width="17.028000000000002"/>
<polyline points="1120.0,1881.9 1159.7,1895.9 1190.1,1881.9 1241.5,1872.5 1260.2,1872.5 1283.6,1881.9 1342.0,1877.2 1365.4,1895.9" stroke="#993333" stroke-width="18.48"/>
<polyline points="1365.4,1886.6 1423.8,1875.3 1517.3,1864.4 1565.0,1861.3" stroke="#6495ed" stroke-width="17.028000000000002"/>
<polyline points="1505.6,1877.2 1565.0,1877.2" stroke="#d2691e" stroke-width="18.48"/>
<polyline points="1505.6,1905.7 1565.0,1907.6" stroke="#b03060" stroke-width="17.028000000000002"/>
<polyline points="1540.0,1596.7 1610.1,1587.9 1673.2,1581.6 1762.0,1580.4 1771.4,1587.4" stroke="#191970" stroke-width="18.48"/>
<polyline points="1540.0,1699.6 1575.1,1699.6" stroke="#00bfff" stroke-width="20.064"/>
<polyline points="1586.7,1705.4 1680.2,1704.7 1773.7,1702.4 1843.8,1696.8 1913.9,1695.4 1918.6,1690.2 1937.3,1704.3" stroke="#5f9ea0" stroke-width="18.48"/>
<polyline points="1755.0,1724.1 1843.8,1722.5 1985.0,1720.6" stroke="#8b4513" stroke-width="13.860000000000001"/>
<polyline points="1540.0,1746.3 1680.2,1737.4 1773.7,1739.3 1871.9,1737.0" stroke="#7b68ee" stroke-width="18.48"/>
<polyline points="1540.0,1755.7 1633.5,1753.8 1715.3,1769.7 1745.7,1756.1" stroke="#8b7355" stroke-width="15.443999999999999"/>
<polyline points="1540.0,1825.8 1563.4,1821.1 1565.7,1802.4 1593.8,1798.2" stroke="#00ced1" stroke-width="18.48"/>
<polyline points="1589.1,1807.1 1680.2,1793.1 1762.0,1786.5 1780.7,1795.4" stroke="#cc1a1a" stroke-width="18.48"/>
<polyline points="1780.7,1791.2 1918.6,1791.2 1958.4,1798.2" stroke="#00ff33" stroke-width="20.064"/>
<polyline points="1913.9,1821.1 1985.0,1821.1" stroke="#006400" stroke-width="17.028000000000002"/>
<polyline points="1540.0,1859.0 1985.0,1859.0" stroke="#6495ed" stroke-width="9.24"/>
<polyline points="1913.9,1864.4 1985.0,1865.5" stroke="#6495ed" stroke-width="10.824"/>
<polyline points="1589.1,1853.8 1670.9,1853.8" stroke="#ff6347" stroke-width="18.48"/>
<polyline points="1668.5,1846.8 1985.0,1845.0" stroke="#7fffd4" stroke-width="20.064"/>
<polyline points="1745.7,1837.9 1771.4,1837.9" stroke="#8b7355" stroke-width="9.24"/>
<polyline points="1745.7,1867.9 1759.7,1870.7" stroke="#8b7355" stroke-width="12.276000000000002"/>
<polyline points="1956.0,1860.8 1974.7,1860.8" stroke="#ff6347" stroke-width="10.824"/>
<polyline points="1540.0,1873.7 1610.1,1870.7" stroke="#d2691e" stroke-width="21.648"/>
<polyline points="1751.5,1886.6 1985.0,1884.2" stroke="#00cd80" stroke-width="20.064"/>
<polyline points="1540.0,1905.7 1750.3,1896.4 1985.0,1893.6" stroke="#b03060" stroke-width="18.48"/>
<polyline points="1626.5,1947.3 1630.0,1995.0" stroke="#d2691e" stroke-width="15.443999999999999"/>
<polyline points="1860.0,1691.4 1890.4,1696.1 1911.4,1689.1 1939.5,1701.9" stroke="#5f9ea0" stroke-width="17.028000000000002"/>
<polyline points="1860.0,1723.0 2000.2,1718.7 2093.7,1714.1 2252.6,1709.4 2252.6,1727.6" stroke="#8b4513" stroke-width="18.48"/>
<polyline points="1860.0,1737.0 1874.0,1737.0" stroke="#7b68ee" stroke-width="15.443999999999999"/>
<polyline points="2249.1,1623.6 2249.1,1684.4" stroke="#7b68ee" stroke-width="20.064"/>
<polyline points="1860.0,1792.6 1923.0,1792.6 1958.7,1801.0" stroke="#00ff33" stroke-width="19.404"/>
<polyline points="1916.7,1823.1 1996.6,1823.1 2070.1,1823.1 2143.6,1817.8 2255.0,1807.3" stroke="#006400" stroke-width="16.632"/>
<polyline points="1998.7,1818.9 2049.1,1807.3 2139.4,1801.0 2255.0,1795.8" stroke="#634a4a" stroke-width="18.084"/>
<polyline points="2162.5,1825.2 2255.0,1822.0" stroke="#32cd32" stroke-width="18.084"/>
<polyline points="1860.0,1843.0 2007.1,1845.1 2112.1,1849.3 2139.4,1843.0 2162.5,1832.5" stroke="#7fffd4" stroke-width="20.856"/>
<polyline points="1860.0,1856.7 2002.9,1859.4" stroke="#6495ed" stroke-width="11.088000000000001"/>
<polyline points="1958.7,1860.9 1973.4,1860.9" stroke="#ff6347" stroke-width="11.088000000000001"/>
<polyline points="1860.0,1882.9 1965.0,1876.6 2070.1,1867.8 2255.0,1864.5" stroke="#00cd80" stroke-width="19.404"/>
<polyline points="1860.0,1897.6 1986.1,1893.4 2070.1,1888.2 2170.9,1885.0 2183.5,1879.8" stroke="#b03060" stroke-width="15.312"/>
<polyline points="2160.4,1916.6 2255.0,1916.6" stroke="#ffcc00" stroke-width="18.084"/>
</g>
<text transform="translate(76,1229) rotate(-90)" class="yt" textLength="1166" lengthAdjust="spacingAndGlyphs">Clock offset error sequences(ns)</text>
</g>
</svg>
</body></html>
